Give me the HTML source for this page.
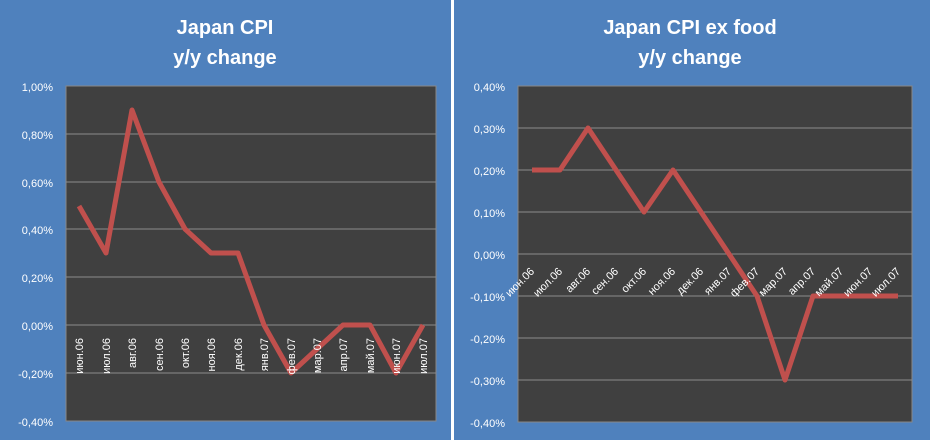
<!DOCTYPE html>
<html><head><meta charset="utf-8"><style>
body{margin:0;width:930px;height:440px;overflow:hidden;background:#fff}
svg{display:block;font-family:"Liberation Sans",sans-serif}
</style></head><body>
<svg width="930" height="440" viewBox="0 0 930 440">
<rect x="0" y="0" width="451" height="440" fill="#4F81BD"/>
<rect x="454" y="0" width="476" height="440" fill="#4F81BD"/>
<g fill="#fff" font-weight="bold" font-size="20" text-anchor="middle">
<text x="225" y="34">Japan CPI</text><text x="225" y="64">y/y change</text>
<text x="690" y="34">Japan CPI ex food</text><text x="690" y="64">y/y change</text>
</g>
<!-- left plot -->
<rect x="66" y="86" width="370" height="335" fill="#404040" stroke="#888" stroke-width="1"/>
<g stroke="#8c8c8c" stroke-width="1">
<line x1="66" x2="436" y1="134" y2="134"/><line x1="66" x2="436" y1="182" y2="182"/>
<line x1="66" x2="436" y1="229" y2="229"/><line x1="66" x2="436" y1="277" y2="277"/>
<line x1="66" x2="436" y1="325" y2="325"/><line x1="66" x2="436" y1="373" y2="373"/>
</g>
<g fill="#fff" font-size="11" text-anchor="end">
<text x="53" y="91">1,00%</text><text x="53" y="139">0,80%</text><text x="53" y="187">0,60%</text>
<text x="53" y="234">0,40%</text><text x="53" y="282">0,20%</text><text x="53" y="330">0,00%</text>
<text x="53" y="378">-0,20%</text><text x="53" y="426">-0,40%</text>
</g>
<polyline fill="none" stroke="#C0504D" stroke-width="5" stroke-linejoin="round" points="79,206 106,253 132,110 159,182 185,229 211,253 238,253 264,325 291,373 317,349 343,325 370,325 396,373 423,325"/>
<g fill="#fff" font-size="11" text-anchor="end">
<text transform="translate(83,338) rotate(-90)">июн.06</text>
<text transform="translate(110,338) rotate(-90)">июл.06</text>
<text transform="translate(136,338) rotate(-90)">авг.06</text>
<text transform="translate(163,338) rotate(-90)">сен.06</text>
<text transform="translate(189,338) rotate(-90)">окт.06</text>
<text transform="translate(215,338) rotate(-90)">ноя.06</text>
<text transform="translate(242,338) rotate(-90)">дек.06</text>
<text transform="translate(268,338) rotate(-90)">янв.07</text>
<text transform="translate(295,338) rotate(-90)">фев.07</text>
<text transform="translate(321,338) rotate(-90)">мар.07</text>
<text transform="translate(347,338) rotate(-90)">апр.07</text>
<text transform="translate(374,338) rotate(-90)">май.07</text>
<text transform="translate(400,338) rotate(-90)">июн.07</text>
<text transform="translate(427,338) rotate(-90)">июл.07</text>
</g>
<!-- right plot -->
<rect x="518" y="86" width="394" height="336" fill="#404040" stroke="#888" stroke-width="1"/>
<g stroke="#8c8c8c" stroke-width="1">
<line x1="518" x2="912" y1="128" y2="128"/><line x1="518" x2="912" y1="170" y2="170"/>
<line x1="518" x2="912" y1="212" y2="212"/><line x1="518" x2="912" y1="254" y2="254"/>
<line x1="518" x2="912" y1="296" y2="296"/><line x1="518" x2="912" y1="338" y2="338"/>
<line x1="518" x2="912" y1="380" y2="380"/>
</g>
<g fill="#fff" font-size="11" text-anchor="end">
<text x="505" y="91">0,40%</text><text x="505" y="133">0,30%</text><text x="505" y="175">0,20%</text>
<text x="505" y="217">0,10%</text><text x="505" y="259">0,00%</text><text x="505" y="301">-0,10%</text>
<text x="505" y="343">-0,20%</text><text x="505" y="385">-0,30%</text><text x="505" y="427">-0,40%</text>
</g>
<polyline fill="none" stroke="#C0504D" stroke-width="5" stroke-linejoin="round" points="532,170 560,170 588,128 616,170 644,212 673,170 701,212 729,254 757,296 785,380 813,296 841,296 870,296 898,296"/>
<g fill="#fff" font-size="11" text-anchor="end">
<text transform="translate(535,272) rotate(-45)">июн.06</text>
<text transform="translate(563,272) rotate(-45)">июл.06</text>
<text transform="translate(591,272) rotate(-45)">авг.06</text>
<text transform="translate(619,272) rotate(-45)">сен.06</text>
<text transform="translate(647,272) rotate(-45)">окт.06</text>
<text transform="translate(676,272) rotate(-45)">ноя.06</text>
<text transform="translate(704,272) rotate(-45)">дек.06</text>
<text transform="translate(732,272) rotate(-45)">янв.07</text>
<text transform="translate(760,272) rotate(-45)">фев.07</text>
<text transform="translate(788,272) rotate(-45)">мар.07</text>
<text transform="translate(816,272) rotate(-45)">апр.07</text>
<text transform="translate(844,272) rotate(-45)">май.07</text>
<text transform="translate(873,272) rotate(-45)">июн.07</text>
<text transform="translate(901,272) rotate(-45)">июл.07</text>
</g>
</svg>
</body></html>
